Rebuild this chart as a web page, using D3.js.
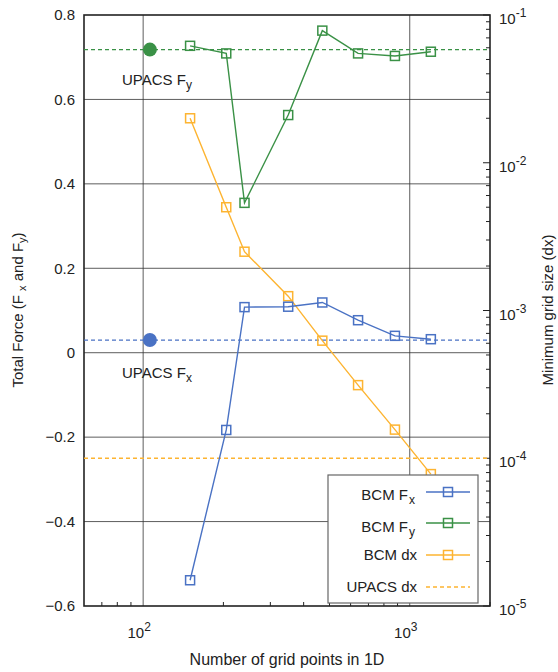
<!DOCTYPE html>
<html>
<head>
<meta charset="utf-8">
<script src="https://cdn.jsdelivr.net/npm/d3@7"></script>
<style>
  body { margin: 0; background: #fff; }
  svg { font-family: "Liberation Sans", Arial, sans-serif; }
</style>
</head>
<body>
<div id="chart"></div>
<script>
// Data
const gridPoints = [150, 205, 240, 350, 470, 640, 880, 1200];
const bcmFx = [-0.539, -0.183, 0.108, 0.109, 0.119, 0.077, 0.040, 0.032];
const bcmFy = [0.727, 0.709, 0.355, 0.563, 0.763, 0.709, 0.703, 0.713];
const bcmDx = [0.02, 0.005, 0.0025, 0.00125, 0.000625, 0.0003125, 0.00015625, 0.000078125];
const upacsN = 106;
const upacsFx = 0.03;
const upacsFy = 0.718;
const upacsDx = 1e-4;
const forceTicks = [-0.6, -0.4, -0.2, 0, 0.2, 0.4, 0.6, 0.8];
const nTicks = [100, 1000];
const dxTicks = [1e-1, 1e-2, 1e-3, 1e-4, 1e-5];

const colors = { fx: "#4a72c4", fy: "#3a9146", dx: "#fdb431" };

const width = 558, height = 672;
const plotL = 84, plotR = 490, plotT = 15, plotB = 606;

const svg = d3.select("#chart").append("svg")
  .attr("width", width)
  .attr("height", height);

const x = d3.scaleLog().domain([60, 2000]).range([plotL, plotR]);
const y = d3.scaleLinear().domain([-0.6, 0.8]).range([plotB, plotT]);
const y2 = d3.scaleLog().domain([1e-5, 1e-1]).range([plotB, plotT]);

// grid
const grid = svg.append("g").attr("stroke", "#333").attr("stroke-width", 0.8);
grid.selectAll("line.h").data(forceTicks.slice(1, -1)).join("line")
  .attr("class", "h")
  .attr("x1", plotL).attr("x2", plotR)
  .attr("y1", d => y(d)).attr("y2", d => y(d));
grid.selectAll("line.v").data(nTicks).join("line")
  .attr("class", "v")
  .attr("x1", d => x(d)).attr("x2", d => x(d))
  .attr("y1", plotT).attr("y2", plotB);

// minor ticks on bottom (inward)
const minorN = d3.range(70, 100, 10).concat(d3.range(200, 1000, 100), [2000]);
svg.append("g").selectAll("line").data(minorN).join("line")
  .attr("x1", d => x(d)).attr("x2", d => x(d))
  .attr("y1", plotB).attr("y2", plotB - 4)
  .attr("stroke", "#222").attr("stroke-width", 1);

// minor ticks on right axis (inward)
const minorDx = [];
[1e-5, 1e-4, 1e-3, 1e-2].forEach(b => { for (let k = 2; k <= 9; k++) minorDx.push(b * k); });
svg.append("g").selectAll("line").data(minorDx).join("line")
  .attr("x1", plotR).attr("x2", plotR - 4)
  .attr("y1", d => y2(d)).attr("y2", d => y2(d))
  .attr("stroke", "#222").attr("stroke-width", 1);
svg.append("g").selectAll("line").data(dxTicks).join("line")
  .attr("x1", plotR).attr("x2", plotR - 7)
  .attr("y1", d => y2(d)).attr("y2", d => y2(d))
  .attr("stroke", "#222").attr("stroke-width", 1);

// frame
svg.append("rect")
  .attr("x", plotL).attr("y", plotT)
  .attr("width", plotR - plotL).attr("height", plotB - plotT)
  .attr("fill", "none").attr("stroke", "#222").attr("stroke-width", 1.6);

// left tick labels
svg.append("g").selectAll("text").data(forceTicks).join("text")
  .attr("x", plotL - 9).attr("y", d => y(d)).attr("dy", "0.35em")
  .attr("text-anchor", "end").attr("font-size", 15).attr("fill", "#222")
  .text(d => d === 0 ? "0" : d3.format(".1f")(d));

// bottom tick labels 10^n
const xl = svg.append("g").selectAll("text").data(nTicks).join("text")
  .attr("x", d => x(d) - 4).attr("y", 638)
  .attr("text-anchor", "middle").attr("font-size", 15).attr("fill", "#222");
xl.append("tspan").text("10");
xl.append("tspan").attr("dy", -7).attr("font-size", 12).text(d => Math.round(Math.log10(d)));

// right tick labels 10^-n
const rl = svg.append("g").selectAll("text").data(dxTicks).join("text")
  .attr("x", plotR + 9).attr("y", d => y2(d) + 9)
  .attr("font-size", 15).attr("fill", "#222");
rl.append("tspan").text("10");
rl.append("tspan").attr("dy", -7).attr("font-size", 12).text(d => Math.round(Math.log10(d)));

// axis titles
svg.append("text")
  .attr("x", 287).attr("y", 665)
  .attr("text-anchor", "middle").attr("font-size", 16).attr("fill", "#222")
  .text("Number of grid points in 1D");

const lt = svg.append("text")
  .attr("transform", "translate(23,310) rotate(-90)")
  .attr("text-anchor", "middle").attr("font-size", 15).attr("fill", "#222");
lt.append("tspan").text("Total Force (F ");
lt.append("tspan").attr("font-size", 11).attr("dy", 3).text("x");
lt.append("tspan").attr("dy", -3).text(" and F");
lt.append("tspan").attr("font-size", 11).attr("dy", 3).text("y");
lt.append("tspan").attr("dy", -3).text(")");

svg.append("text")
  .attr("transform", "translate(553,310) rotate(-90)")
  .attr("text-anchor", "middle").attr("font-size", 15).attr("fill", "#222")
  .text("Minimum grid size (dx)");

// UPACS reference lines
const refs = [
  { v: y(upacsFx), c: colors.fx },
  { v: y(upacsFy), c: colors.fy },
  { v: y2(upacsDx), c: colors.dx }
];
svg.append("g").selectAll("line").data(refs).join("line")
  .attr("x1", plotL).attr("x2", plotR)
  .attr("y1", d => d.v).attr("y2", d => d.v)
  .attr("stroke", d => d.c).attr("stroke-width", 1.3)
  .attr("stroke-dasharray", "4,3");

// UPACS points
svg.append("circle").attr("cx", x(upacsN)).attr("cy", y(upacsFy)).attr("r", 7).attr("fill", colors.fy);
svg.append("circle").attr("cx", x(upacsN)).attr("cy", y(upacsFx)).attr("r", 7).attr("fill", colors.fx);

function subLabel(px, py, base, sub) {
  const t = svg.append("text").attr("x", px).attr("y", py)
    .attr("font-size", 15).attr("fill", "#222");
  t.append("tspan").text(base);
  t.append("tspan").attr("dy", 4).attr("font-size", 12).text(sub);
  return t;
}
subLabel(122, 85, "UPACS F", "y");
subLabel(122, 378, "UPACS F", "x");

// BCM series
const series = [
  { vals: bcmDx, sy: y2, c: colors.dx },
  { vals: bcmFy, sy: y, c: colors.fy },
  { vals: bcmFx, sy: y, c: colors.fx }
];
series.forEach(s => {
  const pts = gridPoints.map((n, i) => [x(n), s.sy(s.vals[i])]);
  svg.append("path")
    .attr("d", d3.line()(pts))
    .attr("fill", "none").attr("stroke", s.c).attr("stroke-width", 1.4);
  svg.append("g").selectAll("rect").data(pts).join("rect")
    .attr("x", d => d[0] - 4.5).attr("y", d => d[1] - 4.5)
    .attr("width", 9).attr("height", 9)
    .attr("fill", "none").attr("stroke", s.c).attr("stroke-width", 1.5);
});

// legend
const lg = svg.append("g");
lg.append("rect")
  .attr("x", 328).attr("y", 475).attr("width", 150).attr("height", 128)
  .attr("fill", "#fff").attr("stroke", "#666").attr("stroke-width", 1.2);
const legendItems = [
  { base: "BCM F", sub: "x", c: colors.fx, ly: 492, ty: 500, marker: true, dash: null },
  { base: "BCM F", sub: "y", c: colors.fy, ly: 523, ty: 532, marker: true, dash: null },
  { base: "BCM dx", sub: "", c: colors.dx, ly: 555, ty: 560, marker: true, dash: null },
  { base: "UPACS dx", sub: "", c: colors.dx, ly: 587, ty: 592, marker: false, dash: "4,3" }
];
legendItems.forEach(it => {
  const t = lg.append("text").attr("x", it.sub ? 408 : 417).attr("y", it.ty)
    .attr("text-anchor", "end").attr("font-size", 15).attr("fill", "#222");
  t.append("tspan").text(it.base);
  if (it.sub) {
    lg.append("text").attr("x", 409).attr("y", it.ty + 4)
      .attr("font-size", 12).attr("fill", "#222").text(it.sub);
  }
  lg.append("line").attr("x1", 426).attr("x2", 470).attr("y1", it.ly).attr("y2", it.ly)
    .attr("stroke", it.c).attr("stroke-width", 1.4)
    .attr("stroke-dasharray", it.dash);
  if (it.marker) {
    lg.append("rect").attr("x", 443.5).attr("y", it.ly - 4.5).attr("width", 9).attr("height", 9)
      .attr("fill", "none").attr("stroke", it.c).attr("stroke-width", 1.5);
  }
});
</script>
</body>
</html>
